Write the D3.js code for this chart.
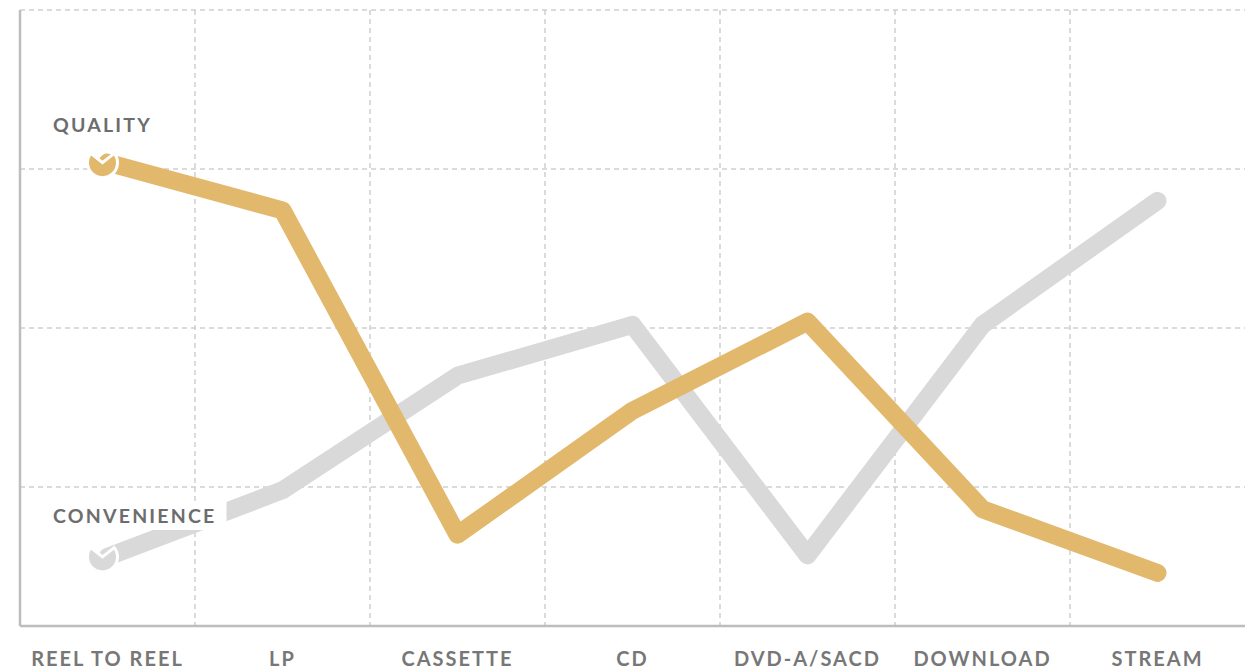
<!DOCTYPE html>
<html>
<head>
<meta charset="utf-8">
<script src="https://cdn.jsdelivr.net/npm/d3@7"></script>
<style>
    body { margin: 0; background: #fff; }
    text { font-family: Lato, "Open Sans", sans-serif; font-weight: 700; }
</style>
</head>
<body>
<div id="chart"></div>
<script>
//formats, left to right
var formats = ["REEL TO REEL", "LP", "CASSETTE", "CD", "DVD-A/SACD", "DOWNLOAD", "STREAM"];
//series values (0 = low, 4 = top of chart)
var quality = [3.04, 2.74, 0.70, 1.48, 2.04, 0.86, 0.46];
var convenience = [0.56, 0.98, 1.70, 2.02, 0.57, 2.02, 2.80];
var gridValues = [1, 2, 3, 4];

//svg dimensions
var svgWidth = 1245;
var svgHeight = 671;
var plotLeft = 20, plotTop = 10, plotBottom = 626, plotRight = 1245;

var svg = d3.select("#chart")
    .append("svg")
    .attr("width", svgWidth)
    .attr("height", svgHeight);

//scales
var xBand = d3.scaleBand()
    .domain(formats)
    .range([plotLeft, plotRight]);

var yLinearScale = d3.scaleLinear()
    .domain([0, 4])
    .range([646, plotTop]);

var xCenter = d => xBand(d) + xBand.bandwidth() / 2;

//grid, horizontal
svg.append("g")
    .selectAll("line")
    .data(gridValues)
    .enter()
    .append("line")
    .attr("x1", plotLeft)
    .attr("x2", plotRight)
    .attr("y1", d => yLinearScale(d))
    .attr("y2", d => yLinearScale(d))
    .attr("stroke", "#cfcfcf")
    .attr("stroke-width", 1.5)
    .attr("stroke-dasharray", "5,4");

//grid, vertical (band edges)
svg.append("g")
    .selectAll("line")
    .data(formats.slice(1))
    .enter()
    .append("line")
    .attr("x1", d => xBand(d))
    .attr("x2", d => xBand(d))
    .attr("y1", plotTop)
    .attr("y2", plotBottom)
    .attr("stroke", "#cfcfcf")
    .attr("stroke-width", 1.5)
    .attr("stroke-dasharray", "5,4");

//axes
svg.append("line")
    .attr("x1", plotLeft).attr("x2", plotLeft)
    .attr("y1", plotTop).attr("y2", plotBottom)
    .attr("stroke", "#bdbdbd")
    .attr("stroke-width", 2.5);
svg.append("line")
    .attr("x1", plotLeft).attr("x2", plotRight)
    .attr("y1", plotBottom).attr("y2", plotBottom)
    .attr("stroke", "#bdbdbd")
    .attr("stroke-width", 2.5);

//category labels
svg.append("g")
    .selectAll("text")
    .data(formats)
    .enter()
    .append("text")
    .text(d => d)
    .attr("x", d => xCenter(d))
    .attr("y", 666)
    .attr("text-anchor", "middle")
    .attr("font-size", 20)
    .attr("letter-spacing", 2)
    .attr("fill", "#777");

var line = d3.line()
    .x((d, i) => xCenter(formats[i]))
    .y(d => yLinearScale(d));

var notch = d3.arc()
    .innerRadius(0)
    .outerRadius(15)
    .startAngle(0.9)
    .endAngle(2 * Math.PI - 0.9);

function drawSeries(values, color, label, labelY) {
    var g = svg.append("g");
    g.append("path")
        .datum(values)
        .attr("d", line)
        .attr("fill", "none")
        .attr("stroke", color)
        .attr("stroke-width", 18)
        .attr("stroke-linejoin", "round")
        .attr("stroke-linecap", "round");
    //label with white box behind it
    var t = g.append("text")
        .text(label)
        .attr("x", 53)
        .attr("y", labelY)
        .attr("font-size", 19.5)
        .attr("letter-spacing", 2.2)
        .attr("fill", "#6d6d6d");
    var box = t.node().getBBox();
    g.insert("rect", "text")
        .attr("x", box.x - 8)
        .attr("y", box.y - 3)
        .attr("width", box.width + 18)
        .attr("height", box.height + 6)
        .attr("fill", "#fff");
    //start marker
    g.append("path")
        .attr("d", notch())
        .attr("transform", `translate(${xCenter(formats[0]) - 5}, ${yLinearScale(values[0])})`)
        .attr("fill", color)
        .attr("stroke", "#fff")
        .attr("stroke-width", 3);
}

drawSeries(convenience, "#d9d9d9", "CONVENIENCE", 523);
drawSeries(quality, "#e2b96c", "QUALITY", 132);
</script>
</body>
</html>
